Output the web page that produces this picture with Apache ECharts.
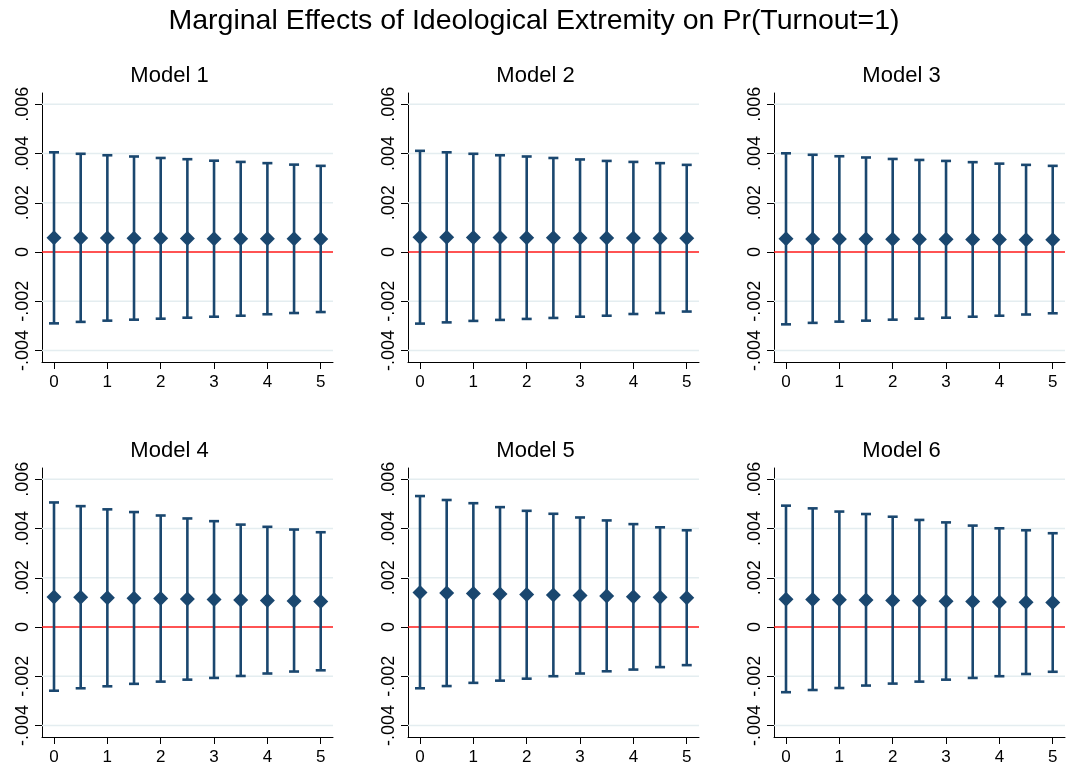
<!DOCTYPE html>
<html>
<head>
<meta charset="utf-8">
<script src="https://cdn.jsdelivr.net/npm/echarts@6/dist/echarts.min.js"></script>
<style>html,body{margin:0;padding:0;background:#fff}#c{width:1068px;height:769px}</style>
</head>
<body>
<div id="c"></div>
<script>
const mainTitle = 'Marginal Effects of Ideological Extremity on Pr(Turnout=1)';
const modelNames = ['Model 1', 'Model 2', 'Model 3', 'Model 4', 'Model 5', 'Model 6'];
const xValues = [0, 0.5, 1, 1.5, 2, 2.5, 3, 3.5, 4, 4.5, 5];
const xTicks = [0, 1, 2, 3, 4, 5];
const yTicks = [-0.004, -0.002, 0, 0.002, 0.004, 0.006];
const refLine = [0];

const m1Est = [0.00058, 0.00057, 0.00057, 0.00056, 0.00056, 0.00055, 0.00054, 0.00054, 0.00054, 0.00054, 0.00053];
const m1Lo  = [-0.00290, -0.00284, -0.00279, -0.00275, -0.00271, -0.00267, -0.00263, -0.00259, -0.00253, -0.00248, -0.00244];
const m1Hi  = [0.00405, 0.00399, 0.00393, 0.00388, 0.00382, 0.00377, 0.00371, 0.00366, 0.00361, 0.00355, 0.00350];

const m2Est = [0.00060, 0.00060, 0.00059, 0.00059, 0.00058, 0.00058, 0.00057, 0.00057, 0.00057, 0.00056, 0.00056];
const m2Lo  = [-0.00291, -0.00286, -0.00280, -0.00276, -0.00272, -0.00268, -0.00263, -0.00259, -0.00252, -0.00248, -0.00242];
const m2Hi  = [0.00411, 0.00405, 0.00399, 0.00393, 0.00388, 0.00382, 0.00376, 0.00370, 0.00366, 0.00361, 0.00354];

const m3Est = [0.00054, 0.00053, 0.00053, 0.00053, 0.00052, 0.00052, 0.00052, 0.00051, 0.00051, 0.00050, 0.00050];
const m3Lo  = [-0.00294, -0.00288, -0.00283, -0.00279, -0.00275, -0.00271, -0.00267, -0.00263, -0.00259, -0.00254, -0.00249];
const m3Hi  = [0.00401, 0.00395, 0.00389, 0.00384, 0.00378, 0.00374, 0.00370, 0.00365, 0.00359, 0.00354, 0.00350];

const m4Est = [0.00122, 0.00121, 0.00119, 0.00117, 0.00116, 0.00114, 0.00112, 0.00110, 0.00108, 0.00106, 0.00104];
const m4Lo  = [-0.00259, -0.00249, -0.00241, -0.00231, -0.00222, -0.00214, -0.00207, -0.00199, -0.00189, -0.00181, -0.00176];
const m4Hi  = [0.00506, 0.00491, 0.00478, 0.00467, 0.00453, 0.00441, 0.00430, 0.00416, 0.00407, 0.00396, 0.00385];

const m5Est = [0.00140, 0.00138, 0.00136, 0.00134, 0.00132, 0.00130, 0.00128, 0.00126, 0.00123, 0.00121, 0.00119];
const m5Lo  = [-0.00249, -0.00240, -0.00227, -0.00218, -0.00210, -0.00200, -0.00189, -0.00180, -0.00173, -0.00163, -0.00155];
const m5Hi  = [0.00532, 0.00516, 0.00503, 0.00487, 0.00472, 0.00460, 0.00445, 0.00433, 0.00418, 0.00405, 0.00393];

const m6Est = [0.00113, 0.00112, 0.00111, 0.00110, 0.00108, 0.00107, 0.00105, 0.00104, 0.00102, 0.00101, 0.00099];
const m6Lo  = [-0.00265, -0.00256, -0.00248, -0.00238, -0.00230, -0.00222, -0.00214, -0.00207, -0.00200, -0.00191, -0.00182];
const m6Hi  = [0.00493, 0.00482, 0.00469, 0.00459, 0.00448, 0.00435, 0.00425, 0.00412, 0.00401, 0.00393, 0.00381];

const models = [
  [m1Est, m1Lo, m1Hi], [m2Est, m2Lo, m2Hi], [m3Est, m3Lo, m3Hi],
  [m4Est, m4Lo, m4Hi], [m5Est, m5Lo, m5Hi], [m6Est, m6Lo, m6Hi]
];

const NAVY = '#1a476f';
const GRIDC = '#e4edf0';
const REDC = '#ff1a1a';
const FONT = '"Liberation Sans", Arial, Helvetica, sans-serif';
const colLeft = [42, 408, 774];
const rowTop = [93, 468];
const gw = 291, gh = 269;

function fmtY(v) {
  if (Math.abs(v) < 1e-12) return '0';
  const s = Math.abs(v).toFixed(3).replace(/^0/, '');
  return (v < 0 ? '-' : '') + s;
}

function hLineRenderer(color, width) {
  return function (params, api) {
    const cs = params.coordSys;
    const y = api.coord([0, api.value(0)])[1];
    return {
      type: 'line',
      shape: { x1: cs.x, y1: y, x2: cs.x + cs.width, y2: y },
      style: { stroke: color, lineWidth: width }
    };
  };
}

const grids = [], xAxes = [], yAxes = [], series = [], graphics = [];
graphics.push({
  type: 'text', left: 'center', top: 7,
  style: { text: mainTitle, font: '28.5px ' + FONT, fill: '#000' }
});

models.forEach((m, i) => {
  const r = Math.floor(i / 3), c = i % 3;
  grids.push({ left: colLeft[c], top: rowTop[r], width: gw, height: gh });
  xAxes.push({
    type: 'value', gridIndex: i, min: -0.225, max: 5.23,
    axisLine: { show: true, onZero: false, lineStyle: { color: '#000', width: 1 } },
    axisTick: { show: true, length: 7, customValues: xTicks, lineStyle: { color: '#000' } },
    axisLabel: { customValues: xTicks, color: '#000', fontSize: 17, fontFamily: FONT, margin: 12 },
    splitLine: { show: false }
  });
  yAxes.push({
    type: 'value', gridIndex: i, min: -0.00447, max: 0.00646,
    axisLine: { show: true, onZero: false, lineStyle: { color: '#000', width: 1 } },
    axisTick: { show: true, length: 7, customValues: yTicks, lineStyle: { color: '#000' } },
    axisLabel: { customValues: yTicks, rotate: 90, color: '#000', fontSize: 18, fontFamily: FONT, margin: 10, formatter: fmtY },
    splitLine: { show: false }
  });
  const panelCenter = colLeft[c] + gw / 2 - 18;
  graphics.push({
    type: 'text', x: panelCenter, y: rowTop[r] - 28,
    style: { text: modelNames[i], font: '22px ' + FONT, fill: '#000', textAlign: 'center', align: 'center' }
  });
  // light gridlines
  series.push({
    type: 'custom', xAxisIndex: i, yAxisIndex: i, z: 1, silent: true,
    data: yTicks.filter(v => v !== 0).map(v => [v]),
    encode: { y: 0 },
    renderItem: hLineRenderer(GRIDC, 1.5)
  });
  // zero reference line
  series.push({
    type: 'custom', xAxisIndex: i, yAxisIndex: i, z: 2, silent: true,
    data: refLine.map(v => [v]),
    encode: { y: 0 },
    renderItem: hLineRenderer(REDC, 1.4)
  });
  const [est, lo, hi] = m;
  series.push({
    type: 'custom', xAxisIndex: i, yAxisIndex: i, z: 3, silent: true,
    data: xValues.map((x, k) => [x, lo[k], hi[k]]),
    encode: { x: 0, y: [1, 2] },
    renderItem: function (params, api) {
      const p1 = api.coord([api.value(0), api.value(1)]);
      const p2 = api.coord([api.value(0), api.value(2)]);
      const hw = 5;
      const st = { stroke: NAVY, lineWidth: 2.6 };
      return {
        type: 'group', children: [
          { type: 'line', shape: { x1: p1[0], y1: p1[1], x2: p2[0], y2: p2[1] }, style: st },
          { type: 'line', shape: { x1: p1[0] - hw, y1: p1[1], x2: p1[0] + hw, y2: p1[1] }, style: st },
          { type: 'line', shape: { x1: p2[0] - hw, y1: p2[1], x2: p2[0] + hw, y2: p2[1] }, style: st }
        ]
      };
    }
  });
  series.push({
    type: 'scatter', xAxisIndex: i, yAxisIndex: i, z: 4, silent: true,
    symbol: 'diamond', symbolSize: 15,
    itemStyle: { color: NAVY, opacity: 1 },
    data: xValues.map((x, k) => [x, est[k]])
  });
});

const chart = echarts.init(document.getElementById('c'), null, { renderer: 'canvas' });
chart.setOption({
  animation: false,
  backgroundColor: '#fff',
  grid: grids, xAxis: xAxes, yAxis: yAxes, series: series, graphic: graphics
});
</script>
</body>
</html>
